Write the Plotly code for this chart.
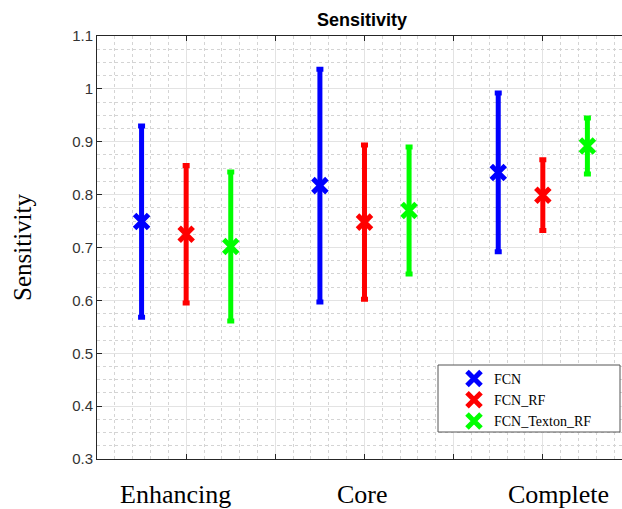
import plotly.graph_objects as go

# Categories (group positions 1, 2, 3 on the x axis)
categories = ["Enhancing", "Core", "Complete"]
series_names = ["FCN", "FCN_RF", "FCN_Texton_RF"]

# Mean sensitivity per category for each method
fcn_mean = [0.749, 0.817, 0.842]
fcn_rf_mean = [0.725, 0.748, 0.799]
fcn_texton_rf_mean = [0.702, 0.770, 0.892]

# Half-length of the error bars
fcn_err = [0.181, 0.220, 0.150]
fcn_rf_err = [0.130, 0.146, 0.067]
fcn_texton_rf_err = [0.141, 0.120, 0.053]

y_tick_vals = [0.3, 0.4, 0.5, 0.6, 0.7, 0.8, 0.9, 1.0, 1.1]
y_tick_text = ["0.3", "0.4", "0.5", "0.6", "0.7", "0.8", "0.9", "1", "1.1"]

# Layout constants
series_offsets = [-0.25, 0.0, 0.25]
series_colors = ["#0000ff", "#ff0000", "#00ff00"]
label_x = [0.94, 1.99, 3.09]

means = [fcn_mean, fcn_rf_mean, fcn_texton_rf_mean]
errs = [fcn_err, fcn_rf_err, fcn_texton_rf_err]

fig = go.Figure()
for name, m, e, off, col in zip(series_names, means, errs, series_offsets, series_colors):
    xs = [i + 1 + off for i in range(len(categories))]
    fig.add_trace(go.Scatter(
        x=xs, y=m, name=name, mode="markers",
        marker=dict(symbol="x-thin", size=14, color=col,
                    line=dict(width=5, color=col)),
        error_y=dict(type="data", array=e, visible=True, color=col,
                     thickness=5, width=3.5),
    ))

axis_col = "#262626"
fig.update_xaxes(
    range=[0.5, 3.444], tickvals=[0.5, 1, 1.5, 2, 2.5, 3], showticklabels=False,
    ticks="inside", ticklen=5, tickcolor=axis_col,
    showline=True, linecolor=axis_col, linewidth=1, mirror="ticks",
    showgrid=True, gridcolor="#e3e3e3", gridwidth=1, zeroline=False,
    minor=dict(dtick=0.1, tick0=0.5, showgrid=True, gridcolor="#d4d4d4",
               griddash="dot", gridwidth=1),
)
fig.update_yaxes(
    range=[0.3, 1.1], tickvals=y_tick_vals, ticktext=y_tick_text,
    ticks="inside", ticklen=5, tickcolor=axis_col,
    showline=True, linecolor=axis_col, linewidth=1, mirror=False,
    showgrid=True, gridcolor="#e3e3e3", gridwidth=1, zeroline=False,
    tickfont=dict(family="Liberation Sans, Arial", size=15, color="#333333"),
    minor=dict(dtick=0.025, tick0=0.3, showgrid=True, gridcolor="#d4d4d4",
               griddash="dot", gridwidth=1),
    title=dict(text="Sensitivity", standoff=33,
               font=dict(family="Liberation Serif, Times New Roman", size=25,
                         color="#000000")),
)

annotations = [
    dict(x=lx, y=-0.045, xref="x", yref="paper", text=c, showarrow=False,
         yanchor="top", xanchor="center",
         font=dict(family="Liberation Serif, Times New Roman", size=26,
                   color="#000000"))
    for lx, c in zip(label_x, categories)
]

# Legend frame
plot_l, plot_w, plot_t, plot_h = 97, 525, 36, 423
box = dict(x0=438, x1=620, y0=365, y1=432)
shapes = [dict(
    type="rect", xref="paper", yref="paper",
    x0=(box["x0"] - plot_l) / plot_w, x1=(box["x1"] - plot_l) / plot_w,
    y0=1 - (box["y1"] - plot_t) / plot_h, y1=1 - (box["y0"] - plot_t) / plot_h,
    line=dict(color="#555555", width=1), fillcolor="white", layer="above",
)]

fig.update_layout(
    width=622, height=509,
    margin=dict(l=plot_l, r=0, t=plot_t, b=509 - plot_t - plot_h),
    plot_bgcolor="white", paper_bgcolor="white",
    title=dict(text="<b>Sensitivity</b>", x=(362 / 622), xanchor="center",
               y=1 - 20 / 509, yanchor="middle",
               font=dict(family="Liberation Sans, Arial", size=18, color="#000000")),
    showlegend=True,
    legend=dict(x=(454 - plot_l) / plot_w, y=1 - (363 - plot_t) / plot_h,
                xanchor="left", yanchor="top", bgcolor="rgba(0,0,0,0)",
                borderwidth=0,
                font=dict(family="Liberation Serif, Times New Roman", size=14,
                          color="#000000"),
                tracegroupgap=0),
    annotations=annotations,
    shapes=shapes,
)

fig.write_html("out.html")
